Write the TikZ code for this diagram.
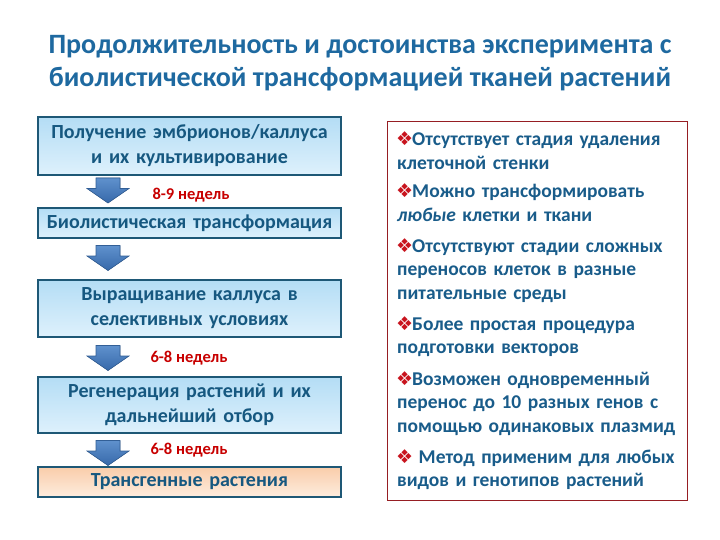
\documentclass[tikz,border=0pt]{standalone}
\usepackage{fontspec}
\usetikzlibrary{calc}
\setmainfont{Carlito}
\newfontfamily\symfont{DejaVu Sans}
\definecolor{titleblue}{RGB}{30,105,160}
\definecolor{boxtext}{RGB}{22,88,128}
\definecolor{boxborder}{RGB}{30,88,118}
\definecolor{boxtop}{RGB}{180,221,245}
\definecolor{boxbot}{RGB}{222,241,252}
\definecolor{ortop}{RGB}{250,205,170}
\definecolor{orbot}{RGB}{253,236,222}
\definecolor{arrowlight}{RGB}{95,145,205}
\definecolor{arrowdark}{RGB}{55,105,170}
\definecolor{arrowedge}{RGB}{50,95,150}
\definecolor{labred}{RGB}{200,0,0}
\definecolor{redborder}{RGB}{150,30,35}
\definecolor{bulred}{RGB}{200,20,30}
\definecolor{righttext}{RGB}{25,92,138}
\newcommand{\bul}{{\symfont\color{bulred}\fontsize{19}{19}\selectfont\kern-1pt ❖\kern-1pt}}
\tikzset{
  stepbox/.style={draw=boxborder, line width=2.5pt, top color=boxtop, bottom color=boxbot,
    minimum width=303pt, text width=298pt, align=center, inner sep=0pt,
    font=\fontsize{20}{25}\selectfont\bfseries, text=boxtext},
  finalbox/.style={stepbox, top color=ortop, bottom color=orbot},
  lab/.style={text=labred, font=\fontsize{16.5}{18}\selectfont\bfseries, inner sep=0pt},
  item/.style={anchor=base west, text width=300pt, align=left, inner sep=0pt,
    font=\fontsize{19.5}{23.7}\selectfont\bfseries, text=righttext},
  downarr/.pic={\fill[top color=arrowlight, bottom color=arrowdark, draw=arrowedge, line width=0.6pt]
    (-12,-12.5) -- (12,-12.5) -- (12,-2) -- (21,-2) -- (0,12.5) -- (-21,-2) -- (-12,-2) -- cycle;}
}
\begin{document}
\begin{tikzpicture}[x=1pt,y=-1pt]
\useasboundingbox[fill=white] (0,0) rectangle (720,540);
\node[align=center, text=titleblue, font=\fontsize{28}{33}\selectfont\bfseries] (title) at (360,63.5)
  {Продолжительность и достоинства эксперимента с\\биолистической трансформацией тканей растений};

\node[stepbox, minimum height=58pt] (b1) at (189.5,146) {Получение эмбрионов/каллуса\\и их культивирование};
\node[stepbox, minimum height=30pt] (b2) at (189.5,223) {Биолистическая трансформация};
\node[stepbox, minimum height=57pt] (b3) at (189.5,308.5) {Выращивание каллуса в\\селективных условиях};
\node[stepbox, minimum height=56pt] (b4) at (189.5,405) {Регенерация растений и их\\дальнейший отбор};
\node[finalbox, minimum height=30pt] (b5) at (189.5,482) {Трансгенные растения};

\path ($(b1.south)!0.5!(b2.north)$) ++(-81.5,-1) coordinate (a1) pic {downarr};
\path ($(b2.south)!0.5!(b3.north)$) ++(-81.5,-1) coordinate (a2) pic {downarr};
\path ($(b3.south)!0.5!(b4.north)$) ++(-81.5,1) coordinate (a3) pic {downarr};
\path ($(b4.south)!0.5!(b5.north)$) ++(-81.5,3) coordinate (a4) pic {downarr};

\node[lab] (l1) at (191,195) {8-9 недель};
\node[lab] (l2) at (189,358) {6-8 недель};
\node[lab] (l3) at (189,450) {6-8 недель};

\node[draw=redborder, line width=1pt, fill=white, minimum width=300pt, minimum height=378pt, inner sep=0pt] (rb) at (537,311) {};
\node[item] (i1) at (397,146) {\bul Отсутствует стадия удаления\\клеточной стенки};
\node[item] (i2) at (397,198) {\bul Можно трансформировать\\\textit{любые} клетки и ткани};
\node[item] (i3) at (397,252) {\bul Отсутствуют стадии сложных\\переносов клеток в разные\\питательные среды};
\node[item] (i4) at (397,330) {\bul Более простая процедура\\подготовки векторов};
\node[item] (i5) at (397,385) {\bul Возможен одновременный\\перенос до 10 разных генов с\\помощью одинаковых плазмид};
\node[item] (i6) at (397,463) {\bul\ Метод применим для любых\\видов и генотипов растений};
\end{tikzpicture}
\end{document}
